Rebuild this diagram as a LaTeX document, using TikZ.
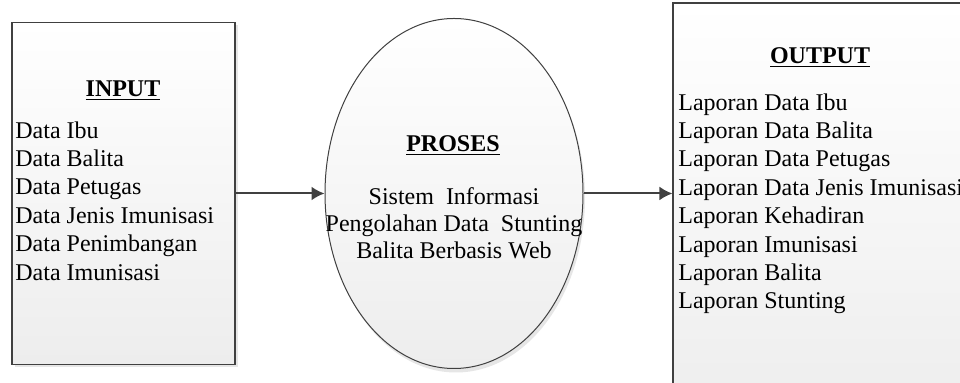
\documentclass[tikz,border=0pt]{standalone}
\usepackage{fontspec}
\setmainfont{Liberation Serif}
\usepackage{xcolor}
\usetikzlibrary{shapes.geometric, arrows.meta, positioning, calc, shadows}

\definecolor{edgegray}{HTML}{404040}
\definecolor{shadegray}{HTML}{EDEDED}

\begin{document}
\begin{tikzpicture}[x=0.5pt, y=-0.5pt, >={Latex[length=6.5pt,width=7pt]}]
        \tikzstyle{block} = [rectangle, draw=edgegray, line width=0.6pt, top color=white, bottom color=shadegray, drop shadow={shadow xshift=1.5pt, shadow yshift=-1.5pt, opacity=0.2, fill=gray}]
        \tikzstyle{process} = [ellipse, draw=edgegray, line width=0.5pt, top color=white, bottom color=shadegray, drop shadow={shadow xshift=1pt, shadow yshift=-2pt, opacity=0.2, fill=gray}]
        \tikzstyle{title} = [inner sep=0pt, font=\fontsize{12}{14}\selectfont\bfseries]
        \tikzstyle{items} = [inner sep=0pt, align=left, anchor=north west, font=\fontsize{12}{14.2}\selectfont]
        \tikzstyle{arrow} = [draw=edgegray, line width=1pt, ->]

        \useasboundingbox (0,0) rectangle (960,383);
        \clip (0,0) rectangle (960,383);

        \node (inbox) [block, minimum width=111.5pt, minimum height=171pt] at (123.5,193.5) {};
        \node (proses) [process, minimum width=129pt, minimum height=175pt] at (454,193.5) {};
        \node (outbox) [block, minimum width=163.5pt, minimum height=208.5pt] at (836.5,211.5) {};

        \node (intitle) [title] at (123,91) {\underline{INPUT}};
        \node (inlist) [items] at (15,121) {Data Ibu\\Data Balita\\Data Petugas\\Data Jenis Imunisasi\\Data Penimbangan\\Data Imunisasi};

        \node (prtitle) [title] at (453,146) {\underline{PROSES}};
        \node (prtext) [inner sep=0pt, align=center, font=\fontsize{12}{13.5}\selectfont] at (454,223) {Sistem\ \ Informasi\\Pengolahan Data\ \ Stunting\\Balita Berbasis Web};

        \node (outtitle) [title] at (820,58) {\underline{OUTPUT}};
        \node (outlist) [items] at (678,93) {Laporan Data Ibu\\Laporan Data Balita\\Laporan Data Petugas\\Laporan Data Jenis Imunisasi\\Laporan Kehadiran\\Laporan Imunisasi\\Laporan Balita\\Laporan Stunting};

        \draw [arrow] (inbox.east) -- (proses.west);
        \draw [arrow] (proses.east) -- (proses.east -| outbox.west);
    \end{tikzpicture}
\end{document}
